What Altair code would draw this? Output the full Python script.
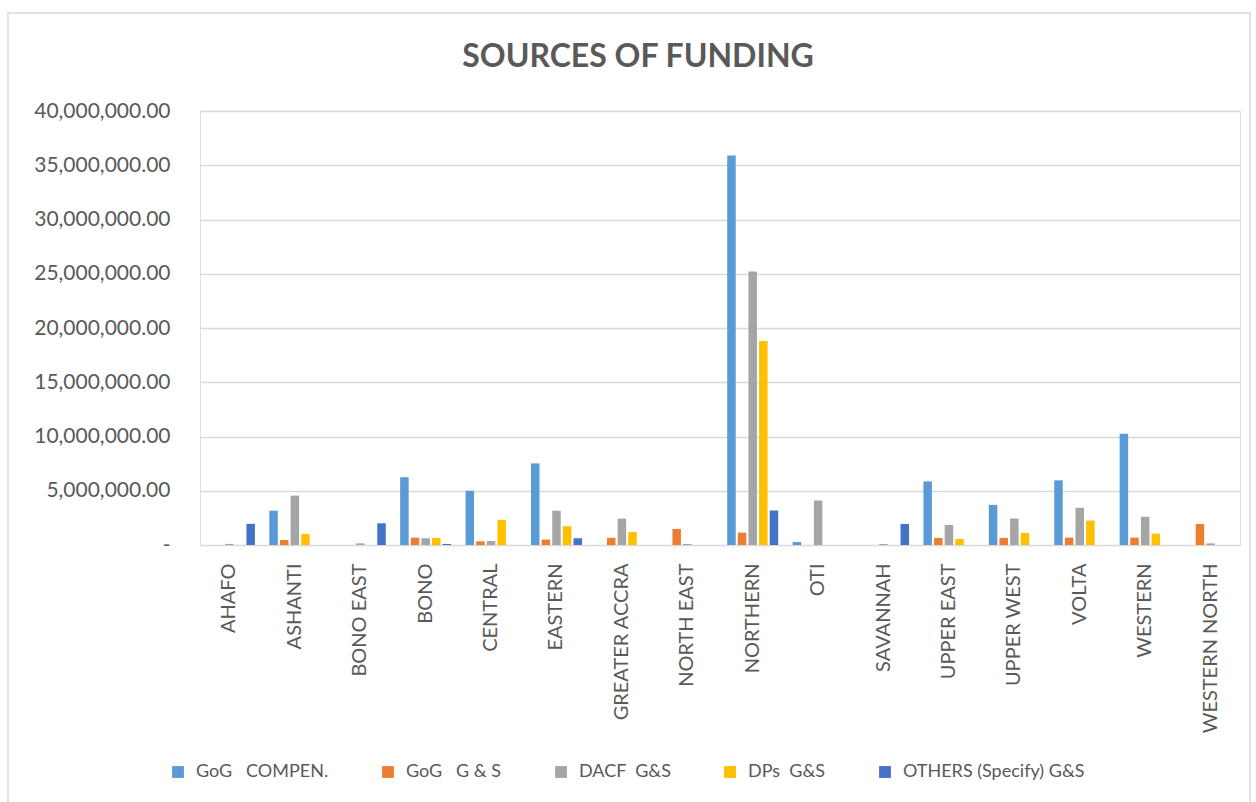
import altair as alt
import pandas as pd

regions = ["AHAFO", "ASHANTI", "BONO EAST", "BONO", "CENTRAL", "EASTERN",
           "GREATER ACCRA", "NORTH EAST", "NORTHERN", "OTI", "SAVANNAH",
           "UPPER EAST", "UPPER WEST", "VOLTA", "WESTERN", "WESTERN NORTH"]

series = ["GoG\u00a0\u00a0\u00a0COMPEN.", "GoG\u00a0\u00a0\u00a0G & S", "DACF\u00a0\u00a0G&S",
          "DPs\u00a0\u00a0G&S", "OTHERS (Specify) G&S"]
colors = ["#5B9BD5", "#ED7D31", "#A5A5A5", "#FFC000", "#4472C4"]

# values in millions
gog_comp = [0, 3.16, 0, 6.25, 5.0, 7.52, 0, 0, 35.9, 0.28, 0, 5.86, 3.7, 5.96, 10.25, 0]
gog_gs = [0, 0.46, 0, 0.68, 0.34, 0.5, 0.66, 1.48, 1.14, 0, 0, 0.65, 0.65, 0.68, 0.68, 1.94]
dacf = [0.1, 4.55, 0.15, 0.62, 0.37, 3.16, 2.43, 0.09, 25.2, 4.1, 0.09, 1.85, 2.44, 3.43, 2.6, 0.15]
dps = [0, 1.02, 0, 0.65, 2.32, 1.73, 1.2, 0, 18.8, 0, 0, 0.56, 1.11, 2.25, 1.05, 0]
others = [1.95, 0, 2.0, 0.09, 0, 0.62, 0, 0, 3.18, 0, 1.94, 0, 0, 0, 0, 0]

title_text = ["SOURCES OF FUNDING"]

rows = []
for s, vals in zip(series, [gog_comp, gog_gs, dacf, dps, others]):
    for r, v in zip(regions, vals):
        rows.append({"region": r, "series": s, "value": v * 1e6})
df = pd.DataFrame(rows)

FONT = "Lato"
GRAY = "#595959"

bars = alt.Chart(df).mark_bar().encode(
    x=alt.X("region:N", sort=regions, title=None,
            scale=alt.Scale(paddingInner=0.22, paddingOuter=0.06),
            axis=alt.Axis(labelAngle=270, labelAlign="right", labelBaseline="middle",
                          labelPadding=18, ticks=False, grid=False, domain=False,
                          labelFontSize=20, labelColor=GRAY,
                          labelFont=FONT, labelLimit=300)),
    xOffset=alt.XOffset("series:N", sort=series,
                        scale=alt.Scale(paddingInner=0.2)),
    y=alt.Y("value:Q", title=None,
            scale=alt.Scale(domain=[0, 40000000], nice=False),
            axis=alt.Axis(values=[i * 5000000 for i in range(9)],
                          labelExpr="datum.value == 0 ? '-' : format(datum.value, ',.2f')",
                          ticks=False, domain=False, gridColor="#D9D9D9",
                          gridWidth=1.5, labelPadding=30, labelFontSize=21,
                          labelColor=GRAY, labelFont=FONT)),
    color=alt.Color("series:N", sort=series,
                    scale=alt.Scale(domain=series, range=colors),
                    legend=alt.Legend(title=None, orient="none", direction="horizontal",
                                      columns=5, legendX=-31, legendY=652,
                                      symbolType="square", symbolSize=140,
                                      symbolStrokeWidth=0, labelFontSize=18,
                                      labelFont=FONT, labelColor=GRAY,
                                      columnPadding=50, labelOffset=9,
                                      labelLimit=400)),
)

frame = alt.Chart(pd.DataFrame({"a": [0]})).mark_rect(
    fill="white", fillOpacity=0, stroke="#D9D9D9", strokeWidth=1.5
).encode(x=alt.value(-192), x2=alt.value(1050), y=alt.value(-98), y2=alt.value(700))

title = alt.Chart(pd.DataFrame({"t": title_text})).mark_text(
    font=FONT, fontSize=32, fontWeight="bold", color=GRAY,
    align="center", baseline="middle"
).encode(text="t:N", x=alt.value(438), y=alt.value(-54))

chart = alt.layer(frame, bars, title).properties(
    width=1040, height=434,
    autosize=alt.AutoSizeParams(type="none"),
    padding={"left": 200, "top": 111, "right": 16, "bottom": 257},
).configure_view(
    stroke="transparent", strokeWidth=0
).configure_axis(domain=False).configure(background="white")

chart.save("out.html", embed_options={"renderer": "svg", "actions": False})
